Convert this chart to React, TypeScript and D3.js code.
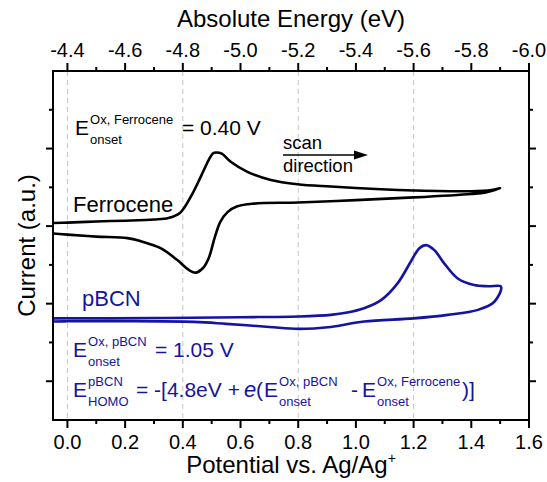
import React from 'react';
import * as d3 from 'd3';

// tick labels
const potentialTicks = [0.0, 0.2, 0.4, 0.6, 0.8, 1.0, 1.2, 1.4, 1.6];
const energyTicks = [-4.4, -4.6, -4.8, -5.0, -5.2, -5.4, -5.6, -5.8, -6.0];
const currentTicks = [1, 2, 3, 4, 5, 6, 7, 8];
const guideLines = [0.0, 0.4, 0.8, 1.2];

// Ferrocene CV: forward (oxidation) sweep then return sweep, [V, current a.u.]
const ferroFwd: [number, number][] = [
  [-0.05, 5.08], [0.0, 5.09], [0.1, 5.12], [0.2, 5.14], [0.3, 5.17], [0.35, 5.21],
  [0.39, 5.34], [0.427, 5.75], [0.462, 6.27], [0.49, 6.71], [0.505, 6.88], [0.515, 6.9],
  [0.535, 6.87], [0.566, 6.66], [0.624, 6.4], [0.705, 6.19], [0.797, 6.08], [0.913, 6.02],
  [1.087, 5.95], [1.2, 5.92], [1.4, 5.9], [1.47, 5.93], [1.5, 5.98],
];
const ferroRev: [number, number][] = [
  [1.5, 5.98], [1.45, 5.87], [1.4, 5.83], [1.2, 5.74], [1.0, 5.67], [0.8, 5.61],
  [0.646, 5.58], [0.589, 5.51], [0.555, 5.36], [0.53, 5.11], [0.51, 4.69], [0.49, 4.18],
  [0.47, 3.92], [0.444, 3.8], [0.417, 3.89], [0.38, 4.13], [0.323, 4.43], [0.25, 4.62],
  [0.208, 4.69], [0.1, 4.73], [0.0, 4.78], [-0.05, 4.81],
];

// pBCN CV
const pbcnFwd: [number, number][] = [
  [-0.05, 2.62], [0.3, 2.63], [0.6, 2.65], [0.8, 2.67], [0.913, 2.71], [0.97, 2.77],
  [1.028, 2.88], [1.087, 3.09], [1.145, 3.53], [1.19, 4.08], [1.22, 4.43], [1.243, 4.51],
  [1.272, 4.38], [1.306, 4.04], [1.353, 3.65], [1.41, 3.48], [1.46, 3.45], [1.503, 3.44],
];
const pbcnRev: [number, number][] = [
  [1.503, 3.44], [1.48, 3.05], [1.423, 2.84], [1.318, 2.71], [1.2, 2.62], [1.028, 2.54],
  [0.913, 2.4], [0.8, 2.35], [0.7, 2.4], [0.55, 2.48], [0.44, 2.53], [0.2, 2.55],
  [0.0, 2.545], [-0.05, 2.54],
];

const W = 547;
const H = 482;
const m = { left: 53, right: 529, top: 71, bottom: 420 };
const FONT = 'Liberation Sans, Arial, Helvetica, sans-serif';
const BLUE = '#1414a0';

const x = d3.scaleLinear().domain([-0.05, 1.6]).range([m.left, m.right]);
const xTop = d3.scaleLinear().domain([-4.35, -6.0]).range([m.left, m.right]);
const y = d3.scaleLinear().domain([0, 9]).range([m.bottom, m.top]);

const line = d3
  .line<[number, number]>()
  .x(d => x(d[0]))
  .y(d => y(d[1]))
  .curve(d3.curveCatmullRom.alpha(0.5));

// E with superscript/subscript stacked after it
function EOnset({ x0, y0, sup, sub, color, fs = 21 }: any) {
  const dx = fs * 0.72;
  return (
    <g fill={color} fontFamily={FONT}>
      <text x={x0} y={y0} fontSize={fs}>E</text>
      <text x={x0 + dx} y={y0 - 11} fontSize={13}>{sup}</text>
      <text x={x0 + dx} y={y0 + 9} fontSize={13}>{sub}</text>
    </g>
  );
}

export default function App() {
  const minorX = d3.range(0, 1.61, 0.1);
  const minorTop = d3.range(-4.4, -6.01, -0.1);

  return (
    <svg width={W} height={H} style={{ position: 'absolute', left: 0, top: 0, background: '#fff' }}>
      <defs>
        <clipPath id="plot">
          <rect x={m.left} y={m.top} width={m.right - m.left} height={m.bottom - m.top} />
        </clipPath>
      </defs>

      {/* dashed guides */}
      {guideLines.map(v => (
        <line key={v} x1={x(v)} x2={x(v)} y1={m.top} y2={m.bottom}
          stroke="#c4c4c4" strokeWidth={1} strokeDasharray="5,4" />
      ))}

      {/* curves */}
      <g clipPath="url(#plot)" fill="none" strokeWidth={2.6} strokeLinejoin="round">
        <path d={line([...ferroFwd, ...ferroRev.slice(1)]) || ''} stroke="#000" />
        <path d={line([...pbcnFwd, ...pbcnRev.slice(1)]) || ''} stroke={BLUE} />
      </g>

      {/* frame */}
      <rect x={m.left} y={m.top} width={m.right - m.left} height={m.bottom - m.top}
        fill="none" stroke="#000" strokeWidth={2} />

      {/* bottom axis */}
      {minorX.map((v, i) => (
        <line key={'bm' + i} x1={x(v)} x2={x(v)} y1={m.bottom} y2={m.bottom + (i % 2 === 0 ? 8 : 4)}
          stroke="#000" strokeWidth={2} />
      ))}
      {potentialTicks.map(v => (
        <text key={'bl' + v} x={x(v)} y={449} textAnchor="middle" fontSize={20} fontFamily={FONT}>
          {v.toFixed(1)}
        </text>
      ))}
      <text x={(m.left + m.right) / 2} y={473} textAnchor="middle" fontSize={24} fontFamily={FONT}>
        Potential vs. Ag/Ag<tspan dy={-10} fontSize={14}>+</tspan>
      </text>

      {/* top axis */}
      {minorTop.map((v, i) => (
        <line key={'tm' + i} x1={xTop(v)} x2={xTop(v)} y1={m.top} y2={m.top - (i % 2 === 0 ? 8 : 4)}
          stroke="#000" strokeWidth={2} />
      ))}
      {energyTicks.map(v => (
        <text key={'tl' + v} x={xTop(v)} y={57} textAnchor="middle" fontSize={20} fontFamily={FONT}>
          {v.toFixed(1)}
        </text>
      ))}
      <text x={(m.left + m.right) / 2} y={27} textAnchor="middle" fontSize={24} fontFamily={FONT}>
        Absolute Energy (eV)
      </text>

      {/* left & right axes */}
      {currentTicks.map(v => {
        const len = v % 2 === 1 ? 7 : 4;
        return (
          <g key={'y' + v} stroke="#000" strokeWidth={2}>
            <line x1={m.left - len} x2={m.left} y1={y(v)} y2={y(v)} />
            <line x1={m.right} x2={m.right + len} y1={y(v)} y2={y(v)} />
          </g>
        );
      })}
      <text transform={`translate(35,${(m.top + m.bottom) / 2}) rotate(-90)`} textAnchor="middle"
        fontSize={24} fontFamily={FONT}>
        Current (a.u.)
      </text>

      {/* annotations */}
      <EOnset x0={75} y0={135} sup="Ox, Ferrocene" sub="onset" color="#000" />
      <text x={182} y={135} fontSize={21} fontFamily={FONT}>= 0.40 V</text>

      <text x={283} y={149} fontSize={18.5} fontFamily={FONT}>scan</text>
      <line x1={283} x2={356} y1={155} y2={155} stroke="#000" strokeWidth={1.5} />
      <path d="M354,150.5 L368,155 L354,159.5 Z" fill="#000" />
      <text x={283} y={172} fontSize={18.5} fontFamily={FONT}>direction</text>

      <text x={73} y={212} fontSize={22} fontFamily={FONT}>Ferrocene</text>
      <text x={82} y={306} fontSize={22} fontFamily={FONT} fill={BLUE}>pBCN</text>

      <EOnset x0={73} y0={357} sup="Ox, pBCN" sub="onset" color={BLUE} />
      <text x={155} y={357} fontSize={21} fontFamily={FONT} fill={BLUE}>= 1.05 V</text>

      <EOnset x0={73} y0={397} sup="pBCN" sub="HOMO" color={BLUE} />
      <text x={136} y={397} fontSize={21} fontFamily={FONT} fill={BLUE}>= -[4.8eV +</text>
      <text x={244} y={397} fontSize={22} fontFamily={FONT} fill={BLUE} fontStyle="italic">e</text>
      <text x={256} y={397} fontSize={21} fontFamily={FONT} fill={BLUE}>(</text>
      <EOnset x0={264} y0={397} sup="Ox, pBCN" sub="onset" color={BLUE} />
      <text x={351} y={397} fontSize={21} fontFamily={FONT} fill={BLUE}>-</text>
      <EOnset x0={362} y0={397} sup="Ox, Ferrocene" sub="onset" color={BLUE} />
      <text x={462} y={397} fontSize={21} fontFamily={FONT} fill={BLUE}>)]</text>
    </svg>
  );
}
